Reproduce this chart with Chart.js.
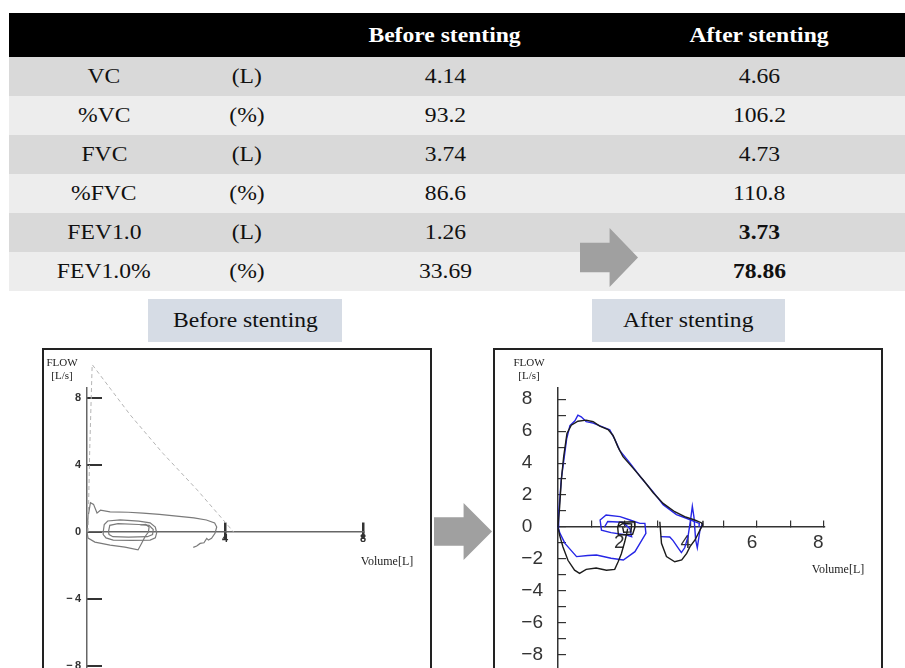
<!DOCTYPE html>
<html>
<head>
<meta charset="utf-8">
<title>Pulmonary function before and after stenting</title>
<script src="https://cdn.jsdelivr.net/npm/chart.js@4/dist/chart.umd.min.js"></script>
<style>
	body { margin: 0; background: #fff; font-family: "Liberation Serif", "Times New Roman", serif; }
	#page { position: relative; width: 905px; height: 668px; overflow: hidden; }
	#results { position: absolute; left: 9px; top: 13px; width: 896px; border-collapse: collapse; table-layout: fixed; font-size: 20px; }
	#results th { background: #000; color: #fff; height: 44px; padding: 0; font-weight: bold; text-align: center; }
	#results td { height: 39px; padding: 0; text-align: center; color: #111; }
	#results tbody tr:nth-child(odd) td { background: #d9d9d9; }
	#results tbody tr:nth-child(even) td { background: #ededed; }
	#results td.strong { font-weight: bold; }
	/* the source slide is a little stretched sideways */
	.wide { display: inline-block; transform: scaleX(1.18); }
	.arrow { position: absolute; width: 58px; background: #a0a0a0; clip-path: polygon(0 25%, 51% 25%, 51% 0, 100% 50%, 51% 100%, 51% 75%, 0 75%); }
	.tag { position: absolute; top: 299px; height: 43px; width: 194px; background: #d6dce5; text-align: center; line-height: 43px; font-size: 20px; color: #111; }
	.frame { position: absolute; top: 348px; width: 390px; height: 340px; border: 2px solid #222; box-sizing: border-box; }
	canvas { position: absolute; top: 350px; }
	.note { position: absolute; font-size: 11px; line-height: 13px; color: #222; text-align: center; }
</style>
</head>
<body>
<div id="page">
	<table id="results">
		<colgroup>
			<col style="width: 190px"><col style="width: 96px"><col style="width: 300px"><col style="width: 18px"><col style="width: 292px">
		</colgroup>
		<thead>
			<tr><th></th><th></th><th><span class="wide">Before stenting</span></th><th></th><th><span class="wide">After stenting</span></th></tr>
		</thead>
		<tbody></tbody>
	</table>
	<div class="arrow" style="left: 580px; top: 228px; height: 59px;"></div>

	<div class="tag" style="left: 148px;"><span class="wide">Before stenting</span></div>
	<div class="tag" style="left: 592px; width: 193px;"><span class="wide">After stenting</span></div>

	<div class="frame" style="left: 42px;"></div>
	<div class="frame" style="left: 493px;"></div>
	<div class="arrow" style="left: 434px; top: 503px; height: 57px;"></div>

	<canvas id="before-chart" width="386" height="318" style="left: 44px;"></canvas>
	<canvas id="after-chart" width="386" height="318" style="left: 495px;"></canvas>

	<div class="note" style="left: 44px; top: 356px; width: 36px;">FLOW<br>[L/s]</div>
	<div class="note" style="left: 358px; top: 555px; width: 58px; font-size: 12px;">Volume[L]</div>
	<div class="note" style="left: 511px; top: 356px; width: 36px;">FLOW<br>[L/s]</div>
	<div class="note" style="left: 809px; top: 563px; width: 58px; font-size: 12px;">Volume[L]</div>
</div>

<script>
var rowNames = ["VC", "%VC", "FVC", "%FVC", "FEV1.0", "FEV1.0%"];
var rowUnits = ["(L)", "(%)", "(L)", "(%)", "(L)", "(%)"];
var beforeValues = ["4.14", "93.2", "3.74", "86.6", "1.26", "33.69"];
var afterValues = ["4.66", "106.2", "4.73", "110.8", "3.73", "78.86"];
var afterBold = [false, false, false, false, true, true];

// before stenting (grey scan)
var beforeVolTicks = [4, 8];
var beforeFlowTicks = [8, 4, 0, -4, -8];

var beforePredVol = [0.03, 0.08, 0.15, 0.7, 1.25, 2.2, 3.2, 4.0, 4.25];
var beforePredFlow = [0, 5.0, 10.0, 8.5, 7.0, 4.7, 2.5, 0.6, 0];

var beforeExpVol = [0, 0.03, 0.1, 0.19, 0.29, 0.39, 0.67, 1.2, 1.62, 2.1, 2.6, 3.1, 3.46, 3.7, 3.76, 3.71, 3.61, 3.52, 3.47, 3.39, 3.28, 3.18, 3.08];
var beforeExpFlow = [0, 0.9, 1.75, 1.65, 1.13, 1.3, 1.2, 1.18, 1.13, 1.05, 0.95, 0.85, 0.72, 0.54, 0.3, -0.08, -0.38, -0.48, -0.38, -0.64, -0.68, -0.84, -0.92];

var beforeInspVol = [0, 0.03, 0.23, 0.67, 1.1, 1.48, 1.58, 1.68, 1.78, 1.8, 1.7, 1.55];
var beforeInspFlow = [0, -0.36, -0.6, -0.78, -0.9, -1.07, -0.68, -0.28, 0.0, 0.3, 0.45, 0.42];

var beforeTidalVol = [0.47, 0.5, 0.6, 0.96, 1.5, 1.83, 1.98, 2.02, 1.98, 1.83, 1.3, 0.76, 0.55, 0.47, 0.47];
var beforeTidalFlow = [0, 0.45, 0.66, 0.72, 0.65, 0.55, 0.3, -0.05, -0.35, -0.48, -0.5, -0.48, -0.35, -0.15, 0];

var beforeInnerVol = [0.62, 0.66, 0.9, 1.5, 1.8, 1.92, 1.9, 1.75, 1.2, 0.75, 0.64, 0.62];
var beforeInnerFlow = [0.0, 0.4, 0.5, 0.45, 0.4, 0.15, -0.15, -0.28, -0.3, -0.28, -0.15, 0.0];

// after stenting (black and blue traces)
var afterVolTicks = [1, 2, 3, 4, 5, 6, 7, 8];
var afterFlowTicks = [-8, -7, -6, -5, -4, -3, -2, -1, 0, 1, 2, 3, 4, 5, 6, 7, 8];

var afterBlackExpVol = [0, 0.05, 0.1, 0.17, 0.27, 0.4, 0.6, 0.85, 1.06, 1.26, 1.51, 1.66, 1.81, 1.96, 2.27, 2.57, 2.87, 3.17, 3.52, 3.82, 4.12, 4.32, 4.37];
var afterBlackExpFlow = [0, 1.27, 2.94, 4.4, 5.85, 6.37, 6.62, 6.69, 6.59, 6.31, 6.1, 5.73, 5.0, 4.4, 3.67, 2.94, 2.15, 1.48, 0.96, 0.65, 0.44, 0.27, 0.1];

var afterBlackInspVol = [0, 0.05, 0.15, 0.3, 0.5, 0.65, 0.85, 1.15, 1.46, 1.71, 1.81, 1.91, 2.01, 2.07, 2.1];
var afterBlackInspFlow = [0, -0.52, -1.25, -2.08, -2.7, -2.9, -2.65, -2.56, -2.7, -2.65, -2.19, -1.67, -0.94, -0.42, -0.1];

var afterBlackTidalVol = [1.8, 1.85, 2.3, 2.32, 2.25, 1.82, 1.8, 1.95, 2.22, 2.2, 1.98, 1.95];
var afterBlackTidalFlow = [0, 0.3, 0.33, 0.0, -0.45, -0.5, 0, 0.22, 0.2, -0.3, -0.32, 0];

var afterBlackEndVol = [3.07, 3.12, 3.27, 3.52, 3.73, 3.88, 3.98, 4.13, 4.28, 4.35, 4.37];
var afterBlackEndFlow = [0.33, -1.02, -1.85, -2.17, -2.06, -1.65, -1.23, -0.81, -0.19, 0.1, 0.4];

var afterBlueExpVol = [0, 0.02, 0.1, 0.26, 0.36, 0.51, 0.6, 0.7, 0.85, 1.06, 1.36, 1.56, 1.71, 1.86, 2.17, 2.5, 2.85, 3.17, 3.57, 3.87, 4.12, 4.26, 4.25];
var afterBlueExpFlow = [0, 0.83, 3.0, 5.5, 6.35, 6.65, 7.0, 6.9, 6.6, 6.5, 6.25, 6.08, 5.5, 4.8, 4.0, 3.1, 2.25, 1.4, 0.78, 0.55, 0.34, 0.23, 0];

var afterBlueInspVol = [0, 0.06, 0.21, 0.56, 0.9, 1.16, 1.6, 1.97, 2.32, 2.47, 2.65, 2.62, 2.47, 2.17, 1.87, 1.45, 1.27, 1.31, 1.6, 2.07, 2.22, 2.17, 1.95, 1.5, 1.4];
var afterBlueInspFlow = [0, -0.4, -1.02, -1.85, -1.78, -1.75, -1.95, -2.06, -1.54, -1.02, -0.4, 0.23, 0.23, 0.44, 0.65, 0.75, 0.44, -0.19, -0.35, -0.5, -0.6, -0.1, 0.3, 0.35, 0.0];

var afterBlueEndVol = [3.1, 3.37, 3.47, 3.62, 3.72, 3.82, 3.92, 4.0, 4.05, 4.1, 4.15, 4.2, 4.28, 4.36];
var afterBlueEndFlow = [-0.6, -0.62, -0.85, -1.3, -1.6, -1.3, -0.6, 0.5, 1.3, 0.6, -0.8, -1.3, -0.2, 0.25];

var buildTable = function () {
	var body = document.querySelector("#results tbody");

	rowNames.forEach(function (name, i) {
		var tr = document.createElement("tr");
		var cells = [name, rowUnits[i], beforeValues[i], "", afterValues[i]];

		cells.forEach(function (text, c) {
			var td = document.createElement("td");
			var span = document.createElement("span");

			span.className = "wide";
			span.textContent = text;
			td.appendChild(span);
			if (c === 4 && afterBold[i]) {
				td.className = "strong";
			}
			tr.appendChild(td);
		});
		body.appendChild(tr);
	});
};

var series = function (vol, flow) {
	return vol.map(function (v, i) {
		return { x: v, y: flow[i] };
	});
};

var trace = function (vol, flow, colour, width, dash) {
	return {
		data: series(vol, flow),
		showLine: true,
		borderColor: colour,
		borderWidth: width,
		borderDash: dash || [],
		pointRadius: 0,
		tension: 0,
		clip: false,
	};
};

var fixedTicks = function (values) {
	return function (scale) {
		scale.ticks = values.map(function (v) {
			return { value: v };
		});
	};
};

// the axes should not eat into the plot area, the padding does the layout
var yAxisWidth = function (width) {
	return function (scale) {
		scale.width = width;
		scale.paddingTop = 0;
		scale.paddingBottom = 0;
	};
};

var flatAxis = function (scale) {
	scale.height = 0;
	scale.paddingLeft = 0;
	scale.paddingRight = 0;
};

var minus = function (value) {
	return value < 0 ? "\u2212\u2009" + Math.abs(value) : String(value);
};

var loopChart = function (canvas, datasets, scales, padding) {
	return new Chart(canvas, {
		type: "scatter",
		data: { datasets: datasets },
		options: {
			responsive: false,
			animation: false,
			events: [],
			layout: { padding: padding },
			plugins: { legend: { display: false }, tooltip: { enabled: false } },
			scales: scales,
		},
	});
};

Chart.defaults.font.family = "'Liberation Sans', Arial, sans-serif";

buildTable();

loopChart(document.getElementById("before-chart"), [
	trace(beforePredVol, beforePredFlow, "#b4b4b4", 1, [4, 3]),
	trace(beforeExpVol, beforeExpFlow, "#7a7a7a", 1.2),
	trace(beforeInspVol, beforeInspFlow, "#7a7a7a", 1.2),
	trace(beforeTidalVol, beforeTidalFlow, "#7a7a7a", 1.2),
	trace(beforeInnerVol, beforeInnerFlow, "#7a7a7a", 1.2),
], {
	x: {
		type: "linear", min: 0, max: 8, position: { y: 0 },
		afterBuildTicks: fixedTicks(beforeVolTicks), afterFit: flatAxis,
		border: { color: "#666", width: 1.5 },
		grid: { drawOnChartArea: false, tickLength: -10, lineWidth: 2.5, color: "#333" },
		ticks: { padding: 10, autoSkip: false, maxRotation: 0, color: "#333", font: { size: 11, weight: "bold" } },
	},
	xBelow: {
		type: "linear", axis: "x", min: 0, max: 8, position: { y: 0 },
		afterBuildTicks: fixedTicks(beforeVolTicks), afterFit: flatAxis,
		border: { display: false },
		grid: { drawOnChartArea: false, tickLength: 7, lineWidth: 2.5, color: "#333" },
		ticks: { display: false },
	},
	y: {
		type: "linear", min: -8.12, max: 8.6, position: "left",
		afterBuildTicks: fixedTicks(beforeFlowTicks), afterFit: yAxisWidth(43),
		border: { color: "#666", width: 1.5 },
		grid: { drawOnChartArea: false, tickLength: -15, lineWidth: 2, color: "#333" },
		ticks: { padding: 21, color: "#333", font: { size: 11, weight: "bold" }, callback: minus },
	},
}, { top: 38, right: 67, bottom: 0, left: 0 });

loopChart(document.getElementById("after-chart"), [
	trace(afterBlackExpVol, afterBlackExpFlow, "#1c1c1c", 1.4),
	trace(afterBlackInspVol, afterBlackInspFlow, "#1c1c1c", 1.4),
	trace(afterBlackTidalVol, afterBlackTidalFlow, "#1c1c1c", 1.4),
	trace(afterBlackEndVol, afterBlackEndFlow, "#1c1c1c", 1.4),
	trace(afterBlueExpVol, afterBlueExpFlow, "#2626e6", 1.4),
	trace(afterBlueInspVol, afterBlueInspFlow, "#2626e6", 1.4),
	trace(afterBlueEndVol, afterBlueEndFlow, "#2626e6", 1.4),
], {
	x: {
		type: "linear", min: 0, max: 8.05, position: { y: 0 },
		afterBuildTicks: fixedTicks(afterVolTicks), afterFit: flatAxis,
		border: { color: "#333", width: 1.5 },
		grid: { drawOnChartArea: false, tickLength: -7, lineWidth: 1.2, color: "#333" },
		ticks: {
			padding: 11, labelOffset: -5, autoSkip: false, maxRotation: 0, color: "#333", font: { size: 19 },
			callback: function (value) {
				return value % 2 === 0 ? String(value) : "";
			},
		},
	},
	y: {
		type: "linear", min: -8.82, max: 8.7, position: "left",
		afterBuildTicks: fixedTicks(afterFlowTicks), afterFit: yAxisWidth(63),
		border: { color: "#333", width: 1.5 },
		grid: { drawOnChartArea: false, tickLength: -8, lineWidth: 1.2, color: "#333" },
		ticks: {
			padding: 23, autoSkip: false, color: "#333", font: { size: 19 },
			callback: function (value) {
				if (value % 2 !== 0) {
					return "";
				}
				// keep the digits lined up under the positive ones
				return value < 0 ? "\u2212" + Math.abs(value) : value + "\u2007";
			},
		},
	},
}, { top: 38, right: 56, bottom: 0, left: 0 });
</script>
</body>
</html>
